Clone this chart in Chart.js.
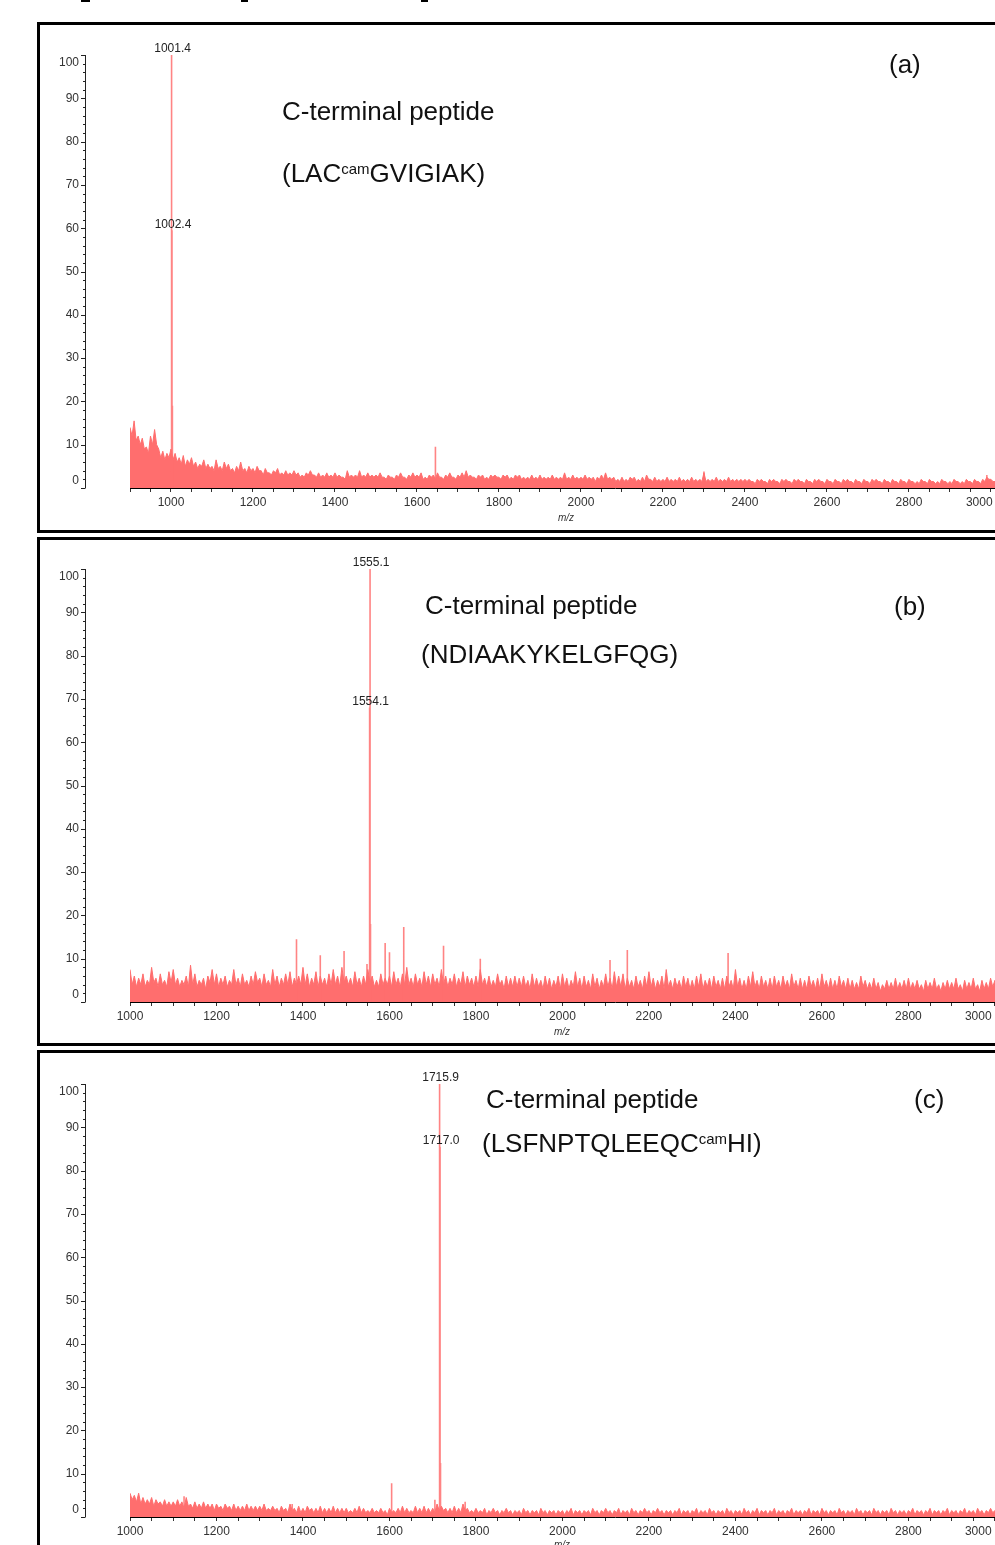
<!DOCTYPE html>
<html><head><meta charset="utf-8">
<script src="https://cdn.jsdelivr.net/npm/chart.js@4.4.1/dist/chart.umd.min.js"></script>
<style>
html,body{margin:0;padding:0;width:995px;height:1545px;overflow:hidden;background:#fff;font-family:'Liberation Sans',Arial,sans-serif;}
body{position:relative;}
.frame{position:absolute;box-sizing:border-box;border:3px solid #000;border-right:none;left:37px;width:1100px;}
canvas{position:absolute;left:0;}
.t{position:absolute;font-size:26px;line-height:30px;color:#111;white-space:nowrap;}
.t sup{font-size:15px;line-height:0;vertical-align:8px;}
.mz{position:absolute;font-size:10px;font-style:italic;color:#333;transform:translateX(-50%);line-height:12px;}
.mark{position:absolute;top:0;height:2px;background:#000;}
</style></head><body>
<div class="mark" style="left:81px;width:9px"></div>
<div class="mark" style="left:241px;width:7px"></div>
<div class="mark" style="left:421px;width:7px"></div>
<div class="frame" style="top:22px;height:511px"></div>
<div class="frame" style="top:537px;height:509px"></div>
<div class="frame" style="top:1050px;height:600px"></div>
<canvas id="ca" width="1100" height="518" style="top:0;width:1100px;height:518px"></canvas>
<canvas id="cb" width="1100" height="512" style="top:520px;width:1100px;height:512px"></canvas>
<canvas id="cc" width="1100" height="507" style="top:1040px;width:1100px;height:507px"></canvas>
<div class="t" style="left:282px;top:96px">C-terminal peptide</div>
<div class="t" style="left:282px;top:158px">(LAC<sup>cam</sup>GVIGIAK)</div>
<div class="t" style="left:889px;top:49px">(a)</div>
<div class="t" style="left:425px;top:590px">C-terminal peptide</div>
<div class="t" style="left:421px;top:639px">(NDIAAKYKELGFQG)</div>
<div class="t" style="left:894px;top:591px">(b)</div>
<div class="t" style="left:486px;top:1084px">C-terminal peptide</div>
<div class="t" style="left:482px;top:1128px">(LSFNPTQLEEQC<sup>cam</sup>HI)</div>
<div class="t" style="left:914px;top:1084px">(c)</div>
<div class="mz" style="left:566px;top:512px">m/z</div>
<div class="mz" style="left:562px;top:1026px">m/z</div>
<div class="mz" style="left:562px;top:1539px">m/z</div>
<script>
// ---- data ----
const xStep = 5;
const xStartA = 900, xStartB = 1000, xStartC = 1000;
const xTickLabels = [1000, 1200, 1400, 1600, 1800, 2000, 2200, 2400, 2600, 2800, 3000];
const yTickLabels = [0, 10, 20, 30, 40, 50, 60, 70, 80, 90, 100];

const noiseA = [
 14, 12, 15.5, 11, 12, 10, 11.5, 9, 9.5, 8, 12, 10, 13.5, 10, 9, 7, 8.5, 6.5, 8, 7,
 9, 6.5, 8, 6, 7, 5.5, 7.5, 5, 6.5, 5.5, 7, 5, 6, 4.5, 5.5, 5, 6.5, 4.5, 5.5, 4.5,
 5, 4, 6.5, 4.5, 5, 4, 6, 4.5, 5.5, 4, 4.5, 3.5, 5, 4, 6, 4, 4.5, 3.5, 5, 4,
 4.5, 3.5, 5, 4, 4, 3, 4.5, 3.5, 3.5, 3, 4, 3.5, 4.5, 3, 3.5, 3, 4, 3, 3.5, 3,
 4, 3, 3.5, 2.5, 3, 2.5, 3.5, 3, 4, 3, 3, 2.5, 3.5, 2.5, 3, 2.5, 3.5, 2.5, 3, 2.5,
 3.5, 2.5, 3, 2.5, 2.5, 2, 4, 2.5, 3, 2.5, 3, 2.5, 4, 2.5, 3, 2.5, 3.5, 2.5, 3, 2.5,
 3, 2.5, 3.5, 2.5, 2.5, 2, 3, 2.5, 2.5, 2, 3, 2.5, 3.5, 2.5, 2.5, 2, 3, 2.5, 3.5, 2.5,
 3, 2.5, 3.5, 2, 2.5, 2, 3, 2.5, 3, 2, 3.5, 2.5, 2.5, 2, 3, 2.5, 3.5, 2.5, 2.5, 2,
 3, 2.5, 3.5, 2.5, 4, 2.5, 3, 2.5, 2.5, 2, 3, 2.5, 3, 2, 2.5, 2, 3, 2.5, 3, 2.5,
 2.5, 2, 3, 2.5, 3, 2, 2.5, 2, 3, 2.5, 3, 2, 2.5, 2, 2.5, 2, 3, 2, 2.5, 2,
 3, 2, 2.5, 2, 2.5, 2, 3, 2, 2.5, 2, 2.5, 2, 3.5, 2, 2.5, 2, 3, 2, 2.5, 2,
 2.5, 2, 3, 2, 2.5, 2, 2.5, 1.5, 2.5, 2, 3, 2, 3.5, 2, 2.5, 2, 2.5, 1.5, 2, 1.5,
 2.5, 1.5, 2, 1.5, 2.5, 2, 2.5, 1.5, 2, 1.5, 2.5, 1.5, 3, 2, 2, 1.5, 2.5, 1.5, 2, 1.5,
 2, 1.5, 2.5, 1.5, 2, 1.5, 2, 1.5, 2.5, 1.5, 2, 1.5, 2, 1.5, 2.5, 1.5, 2, 1.5, 2, 1.5,
 3.5, 1.5, 2, 1.5, 2, 1.5, 2.5, 1.5, 2, 1.5, 2, 1.5, 2.5, 1.5, 2, 1.5, 2, 1.5, 2, 1.5,
 2, 1.5, 2, 1.5, 1.5, 1, 2, 1.5, 2, 1.5, 1.5, 1, 2, 1.5, 2, 1.5, 1.5, 1, 2, 1.5,
 2, 1.5, 1.5, 1, 2, 1.5, 2, 1.5, 1.5, 1, 2, 1.5, 1.5, 1, 2, 1.5, 2, 1.5, 1.5, 1,
 2, 1.5, 1.5, 1, 2, 1.5, 1.5, 1, 2, 1.5, 2, 1.5, 1.5, 1, 2, 1.5, 1.5, 1, 2, 1.5,
 1.5, 1, 2, 1.5, 2, 1.5, 1.5, 1, 2, 1.5, 1.5, 1, 2, 1.5, 1.5, 1, 2, 1.5, 1.5, 1,
 2, 1.5, 1.5, 1, 1.5, 1, 2, 1.5, 1.5, 1, 2, 1.5, 1.5, 1, 1.5, 1, 2, 1.5, 1.5, 1,
 1.5, 1, 2, 1.5, 1.5, 1, 1.5, 1, 2, 1.5, 1.5, 1, 2, 1.5, 1.5, 1, 2, 1.5, 2.5, 2,
 2, 1.5, 1.5
];
const noiseB = [
 7.5, 4, 6, 3.5, 5.5, 4, 6.5, 3.5, 5, 4, 8, 4.5, 5.5, 3.5, 6.5, 4, 5, 3.5, 7, 4.5,
 7.5, 4, 5.5, 3.5, 5, 4, 6, 3.5, 8.5, 4, 6.5, 3.5, 5, 4, 5.5, 3, 6, 4.5, 7.5, 4,
 6.5, 3.5, 5.5, 4, 6, 3.5, 5, 4, 7.5, 4, 5.5, 3.5, 6.5, 4, 5, 3.5, 6, 4, 7, 4.5,
 5.5, 3.5, 6.5, 4, 5, 3.5, 7.5, 4, 6, 3.5, 5.5, 4, 6.5, 4, 7, 3.5, 5.5, 4, 6, 4,
 8, 4, 6.5, 3.5, 5.5, 4, 7, 3.5, 6, 4, 5.5, 3.5, 6.5, 4, 7.5, 4, 6, 3.5, 8, 4.5,
 6, 4, 5.5, 3.5, 7, 4, 5.5, 3.5, 6, 4, 7.5, 4.5, 6, 3.5, 5, 3.5, 6.5, 4, 5.5, 4,
 6, 3.5, 7, 4, 5.5, 3.5, 6.5, 4, 8, 4, 5.5, 3.5, 6.5, 4, 5.5, 3.5, 7, 4, 6, 3.5,
 6.5, 4, 5.5, 3.5, 7.5, 4, 6, 3.5, 5.5, 4, 6.5, 3.5, 5.5, 4, 7, 3.5, 6, 4, 5.5, 3.5,
 6, 3.5, 7.5, 4, 5.5, 3.5, 6, 3.5, 5, 3.5, 6.5, 4, 5, 3, 6, 3.5, 5.5, 3.5, 6, 3.5,
 5.5, 3.5, 6, 3.5, 5, 3, 6.5, 3.5, 5.5, 3.5, 5, 3, 6, 3.5, 5.5, 3, 5, 3.5, 6, 3,
 6.5, 3.5, 5.5, 3, 5, 3.5, 7, 3.5, 5.5, 3, 6, 3.5, 5, 3, 6.5, 3.5, 5.5, 3, 5, 3.5,
 6.5, 3.5, 5.5, 3, 7, 3.5, 6, 3.5, 6.5, 3, 5.5, 3.5, 5, 3, 6, 3.5, 5, 3, 6, 3.5,
 7, 3.5, 5.5, 3, 5, 3.5, 6, 3, 7.5, 3.5, 5, 3, 5.5, 3.5, 5, 3, 6, 3.5, 5.5, 3,
 5, 3, 6, 3.5, 6.5, 3, 5, 3.5, 5.5, 3, 6, 3.5, 5, 3, 5.5, 3, 6, 3.5, 5, 3,
 7.5, 3.5, 5.5, 3, 5, 3, 6, 3.5, 7, 3.5, 5, 3, 6, 3.5, 5, 3, 5.5, 3, 6, 3.5,
 5, 3, 6, 3.5, 5, 3, 6.5, 3.5, 5, 3, 5.5, 3, 5, 3, 6, 3.5, 5, 3, 5.5, 3,
 6.5, 3.5, 5, 3, 5.5, 3, 5, 3, 6, 3.5, 5, 3, 5.5, 3, 5, 3, 4.5, 3, 6, 3.5,
 5, 3, 4.5, 3, 5.5, 3, 4.5, 2.5, 4, 3, 5, 3, 4.5, 3, 5.5, 3, 4.5, 3, 5, 3,
 5.5, 3, 4.5, 3, 5, 3, 4, 2.5, 5, 3, 4.5, 3, 5.5, 3, 4, 2.5, 4.5, 3, 5, 3,
 4.5, 3, 5.5, 3, 4, 2.5, 5, 3, 4.5, 3, 5.5, 3, 4, 2.5, 5, 3, 4.5, 3, 5.5, 3.5,
 5, 3, 4.5
];
const noiseC = [
 5.5, 4, 5, 3.5, 5.5, 3, 4.5, 3, 4, 3, 4.5, 2.5, 4, 3, 3.5, 2.5, 4, 2.5, 3.5, 2.5,
 3.5, 2.5, 4, 2.5, 3.5, 2, 4.5, 2.5, 3, 2, 3.5, 2, 3, 2, 3.5, 2, 3, 2, 3, 1.5,
 3, 2, 2.5, 1.5, 3, 2, 2.5, 1.5, 3, 1.5, 2.5, 1.5, 2.5, 1.5, 3, 1.5, 2.5, 1.5, 2.5, 1.5,
 2.5, 1.5, 3, 1.5, 2, 1.5, 2.5, 1.5, 2, 1, 2.5, 1.5, 2, 1, 3, 1.5, 2, 1, 2.5, 1,
 2, 1, 2.5, 1.5, 2, 1, 2, 1, 2.5, 1, 2, 1, 2, 1, 2.5, 1, 2, 1, 2, 1,
 2, 1, 1.5, 1, 2, 1, 2.5, 1, 2, 1, 1.5, 1, 2, 1, 1.5, 1, 2, 1, 1.5, 0.5,
 2, 1, 1.5, 1, 2, 1, 2.5, 1, 2, 1, 1.5, 1, 2.5, 1, 2, 1, 2.5, 1, 2, 1,
 2, 1, 3, 1.5, 2.5, 1.5, 2, 1, 2, 1, 2.5, 1, 2, 1, 3, 1.5, 2, 1, 1.5, 1,
 2, 1, 1.5, 1, 2, 0.5, 1.5, 1, 2, 1, 1.5, 0.5, 1.5, 1, 2, 1, 1.5, 0.5, 1.5, 1,
 1.5, 0.5, 2, 1, 1.5, 0.5, 1.5, 1, 1.5, 0.5, 2, 1, 1.5, 0.5, 1.5, 1, 1.5, 0.5, 1.5, 1,
 1.5, 0.5, 1.5, 1, 2, 0.5, 1.5, 1, 1.5, 0.5, 1.5, 1, 1.5, 0.5, 2, 1, 1.5, 0.5, 1.5, 1,
 2, 1, 1.5, 0.5, 1.5, 1, 2, 0.5, 1.5, 1, 1.5, 0.5, 2, 1, 1.5, 0.5, 1.5, 1, 2, 1,
 1.5, 0.5, 1.5, 1, 2, 1, 1.5, 0.5, 1.5, 1, 1.5, 0.5, 1.5, 1, 2, 0.5, 1.5, 1, 1.5, 0.5,
 1.5, 1, 2, 0.5, 1.5, 1, 1.5, 0.5, 2, 1, 1.5, 0.5, 1.5, 1, 1.5, 0.5, 2, 1, 1.5, 0.5,
 1.5, 1, 1.5, 0.5, 2, 1, 1.5, 0.5, 1.5, 1, 2, 0.5, 1.5, 1, 1.5, 0.5, 1.5, 1, 2, 0.5,
 1.5, 1, 1.5, 0.5, 1.5, 1, 2, 0.5, 1.5, 1, 1.5, 0.5, 1.5, 1, 2, 0.5, 1.5, 1, 1.5, 0.5,
 2, 1, 1.5, 0.5, 1.5, 1, 1.5, 0.5, 2, 1, 1.5, 0.5, 1.5, 1, 1.5, 0.5, 2, 1, 1.5, 0.5,
 1.5, 1, 1.5, 0.5, 2, 1, 1.5, 0.5, 1.5, 1, 1.5, 0.5, 2, 1, 1.5, 0.5, 1.5, 1, 1.5, 0.5,
 1.5, 1, 2, 0.5, 1.5, 1, 1.5, 0.5, 1.5, 1, 2, 0.5, 1.5, 1, 1.5, 0.5, 1.5, 1, 2, 0.5,
 1.5, 1, 1.5, 0.5, 1.5, 1, 2, 0.5, 1.5, 1, 1.5, 0.5, 2, 1, 1.5, 0.5, 1.5, 1, 2, 1,
 1.5, 1, 1.5
];

const peakMzA  = [1001.4, 1002.4, 1003.4, 1645, 2300, 2990];
const peakIntA = [100, 59.5, 19, 9.5, 3.8, 3];
const peakMzB  = [1385, 1440, 1495, 1548, 1554.1, 1555.1, 1556.1, 1590, 1600, 1633, 1725, 1810, 2110, 2150, 2383];
const peakIntB = [14.5, 10.8, 11.8, 8.8, 68, 100, 18, 13.6, 11.5, 17.3, 13, 10, 9.7, 12, 11.3];
const peakMzC  = [1125, 1375, 1605, 1705, 1715.9, 1717.0, 1718.0, 1775];
const peakIntC = [4.8, 3, 7.8, 4, 100, 85.5, 12.5, 3.5];

const labelMzA = [1001.4, 1002.4];
const labelMzB = [1555.1, 1554.1];
const labelMzC = [1715.9, 1717.0];

// ---- build ----
const FONT = "'Liberation Sans', Arial, sans-serif";
Chart.defaults.font.family = FONT;

function noisePoints(start, vals) { return vals.map((v, i) => ({x: start + i * xStep, y: v})); }
function peakPoints(mz, it) {
  const out = [];
  mz.forEach((m, i) => { out.push({x: m, y: 0}, {x: m, y: it[i]}, {x: m, y: 0}, {x: m, y: null}); });
  return out;
}

function makeChart(id, o) {
  const yAxisPlugin = {
    id: 'yaxis' + id,
    afterDraw(chart) {
      const ctx = chart.ctx, ys = chart.scales.y, xs = chart.scales.x;
      const x0 = 85;
      ctx.save();
      ctx.strokeStyle = '#222'; ctx.lineWidth = 1;
      ctx.beginPath();
      ctx.moveTo(x0 + 0.5, ys.getPixelForValue(0)); ctx.lineTo(x0 + 0.5, ys.getPixelForValue(100));
      for (let v = 0; v <= 100; v += 2) {
        const py = Math.round(ys.getPixelForValue(v)) + 0.5;
        const len = (v % 10 === 0) ? 4.5 : 2.5;
        ctx.moveTo(x0 + 0.5 - len, py); ctx.lineTo(x0 + 0.5, py);
      }
      ctx.stroke();
      ctx.fillStyle = '#333'; ctx.font = '12px ' + FONT;
      ctx.textAlign = 'right'; ctx.textBaseline = 'middle';
      yTickLabels.forEach(v => {
        let py = ys.getPixelForValue(v);
        if (v === 100) py += 8;
        if (v === 0) py -= 7;
        ctx.fillText(String(v), 79, py);
      });
      // peak labels
      ctx.fillStyle = '#222'; ctx.textAlign = 'center';
      o.labels.forEach(m => {
        const idx = o.peakMz.indexOf(m);
        const px = xs.getPixelForValue(m), py = ys.getPixelForValue(o.peakInt[idx]) - 6;
        ctx.fillText(m.toFixed(1), px + 1, py);
      });
      ctx.restore();
    }
  };
  return new Chart(document.getElementById(id), {
    type: 'line',
    data: {
      datasets: [
        {data: peakPoints(o.peakMz, o.peakInt), borderColor: 'rgba(255,110,110,0.85)', borderWidth: 1.6,
         pointRadius: 0, fill: false, spanGaps: false, tension: 0},
        {data: noisePoints(o.start, o.noise), borderColor: '#ff6e6e', backgroundColor: '#ff6e6e',
         borderWidth: 1, pointRadius: 0, fill: 'origin', tension: 0}
      ]
    },
    options: {
      responsive: false, animation: false, events: [],
      layout: {padding: {left: 130, top: o.padTop, right: 0, bottom: 0}},
      plugins: {legend: {display: false}, tooltip: {enabled: false}},
      scales: {
        x: {
          type: 'linear', min: o.start, max: o.max,
          afterBuildTicks(s) { const t = []; for (let v = Math.ceil(s.min / 50) * 50; v <= s.max; v += 50) t.push({value: v}); s.ticks = t; },
          afterFit(s) { s.height = 30; },
          ticks: {autoSkip: false, maxRotation: 0, minRotation: 0, padding: 3, color: '#333', font: {size: 12},
            callback: (v) => xTickLabels.includes(v) ? (v === 3000 ? '3000' + ' '.repeat(o.endPad) : String(v)) : ''},
          grid: {drawOnChartArea: false, drawTicks: true, tickLength: 4, color: '#333'},
          border: {display: true, color: '#000', width: 1}
        },
        y: {type: 'linear', display: false, min: 0, max: 100}
      }
    },
    plugins: [yAxisPlugin]
  });
}

makeChart('ca', {start: xStartA, max: 3266, noise: noiseA, peakMz: peakMzA, peakInt: peakIntA, labels: labelMzA, padTop: 55, endPad: 7});
makeChart('cb', {start: xStartB, max: 3243, noise: noiseB, peakMz: peakMzB, peakInt: peakIntB, labels: labelMzB, padTop: 49, endPad: 10});
makeChart('cc', {start: xStartC, max: 3243, noise: noiseC, peakMz: peakMzC, peakInt: peakIntC, labels: labelMzC, padTop: 44, endPad: 10});
</script>
</body></html>
